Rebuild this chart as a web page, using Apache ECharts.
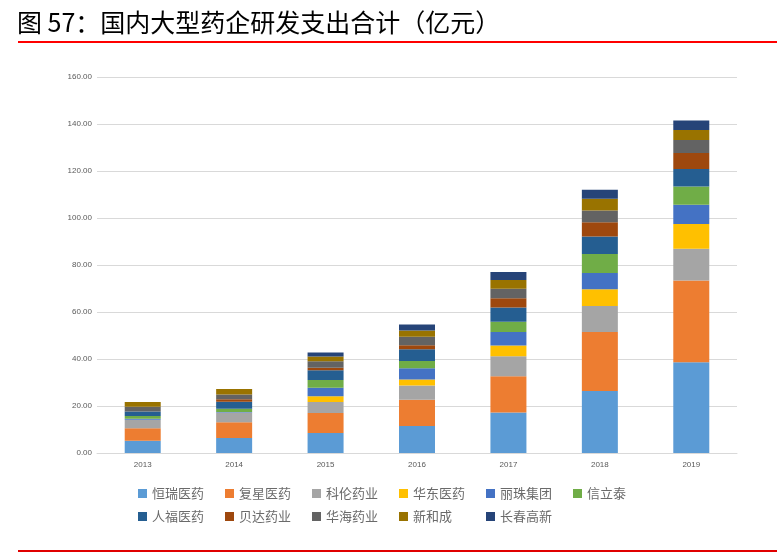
<!DOCTYPE html>
<html>
<head>
<meta charset="utf-8">
<script src="https://cdn.jsdelivr.net/npm/echarts@6/dist/echarts.min.js"></script>
<style>
html,body{margin:0;padding:0;background:#fff;}
#c{width:780px;height:553px;}
</style>
</head>
<body>
<div id="c"></div>
<script>
var titleText = '图 57：国内大型药企研发支出合计（亿元）';
var years = ['2013','2014','2015','2016','2017','2018','2019'];
var yTicks = [0, 20, 40, 60, 80, 100, 120, 140, 160];

var names = ['恒瑞医药','复星医药','科伦药业','华东医药','丽珠集团','信立泰','人福医药','贝达药业','华海药业','新和成','长春高新'];
var hengrui    = [5.2, 6.4, 8.5, 11.5, 17.2, 26.4, 38.6];
var fosun      = [5.3, 6.7, 8.5, 11.2, 15.5, 25.1, 34.8];
var kelun      = [3.7, 4.1, 4.7, 6.0, 8.5, 11.1, 13.5];
var huadong    = [0, 0, 2.4, 2.6, 4.5, 7.1, 10.6];
var lizhu      = [0.4, 0.2, 3.7, 4.8, 5.8, 6.9, 8.1];
var xinlitai   = [1.1, 1.4, 3.3, 3.0, 4.4, 8.1, 7.8];
var renfu      = [2.0, 3.0, 4.1, 5.0, 6.0, 7.4, 7.5];
var beida      = [0, 1.1, 1.1, 1.7, 4.0, 6.1, 6.8];
var huahai     = [2.0, 2.0, 2.7, 3.7, 4.0, 5.0, 5.5];
var xinhecheng = [2.0, 2.3, 2.1, 2.6, 3.7, 5.0, 4.3];
var changchun  = [0, 0, 1.7, 2.6, 3.4, 3.8, 4.0];

var seriesData = [hengrui, fosun, kelun, huadong, lizhu, xinlitai, renfu, beida, huahai, xinhecheng, changchun];
var colors = ['#5B9BD5','#ED7D31','#A5A5A5','#FFC000','#4472C4','#70AD47','#255E91','#9E480E','#636363','#997300','#264478'];

var chart = echarts.init(document.getElementById('c'), null, {renderer:'canvas'});
var series = names.map(function(n, i){
  return {
    name: n,
    type: 'bar',
    stack: 'total',
    barWidth: 36,
    data: seriesData[i],
    itemStyle: {color: colors[i]}
  };
});

chart.setOption({
  animation: false,
  backgroundColor: '#fff',
  color: colors,
  title: {
    text: titleText,
    left: 17,
    top: 8,
    padding: 0,
    textStyle: {fontFamily: '"Noto Sans CJK SC"', fontSize: 25, fontWeight: 'normal', color: '#000', lineHeight: 28}
  },
  graphic: [
    {type:'rect', shape:{x:18, y:41, width:759, height:2}, style:{fill:'#FF0000'}},
    {type:'rect', shape:{x:18, y:550, width:759, height:2}, style:{fill:'#E00000'}}
  ],
  grid: {left: 97, right: 43, top: 77, bottom: 100, containLabel: false},
  legend: {
    left: 138,
    top: 487,
    width: 530,
    itemWidth: 9,
    itemHeight: 9,
    itemGap: 10,
    icon: 'rect',
    padding: 0,
    data: names,
    textStyle: {fontFamily: '"Noto Sans CJK SC"', fontSize: 13, color: '#6a6a6a', width: 63, lineHeight: 10}
  },
  xAxis: {
    type: 'category',
    data: years,
    axisLine: {show: true, lineStyle: {color: '#D9D9D9'}},
    axisTick: {show: false},
    axisLabel: {fontFamily: '"Liberation Sans", Arial', fontSize: 8, color: '#595959', margin: 8}
  },
  yAxis: {
    type: 'value',
    min: yTicks[0],
    max: yTicks[yTicks.length-1],
    interval: 20,
    axisLine: {show: false},
    axisTick: {show: false},
    splitLine: {lineStyle: {color: '#D9D9D9'}},
    axisLabel: {fontFamily: '"Liberation Sans", Arial', fontSize: 8, color: '#595959', margin: 5,
      formatter: function(v){ return v.toFixed(2); }}
  },
  series: series
});
</script>
</body>
</html>
